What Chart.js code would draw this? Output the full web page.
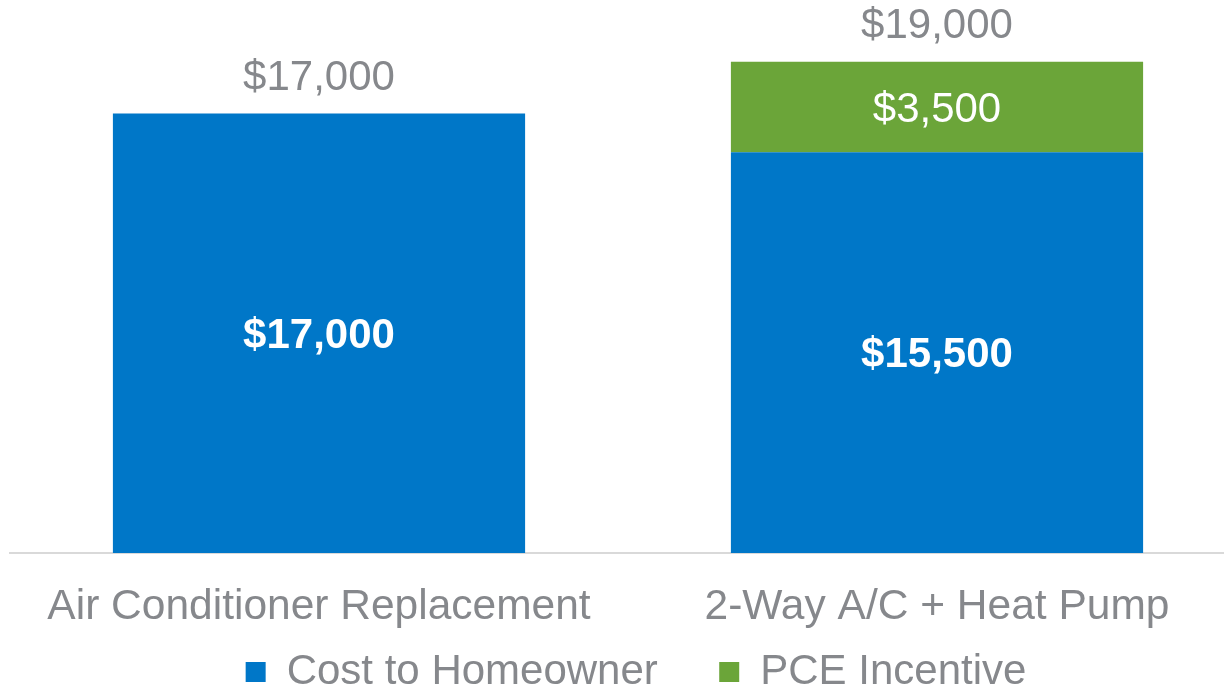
<!DOCTYPE html>
<html>
<head>
<meta charset="utf-8">
<script src="https://cdn.jsdelivr.net/npm/chart.js@4"></script>
<style>
  html, body { margin: 0; padding: 0; background: #fff; overflow: hidden; }
  #wrap { width: 1268px; height: 694px; }
</style>
</head>
<body>
<div id="wrap"><canvas id="chart" width="1268" height="694"></canvas></div>
<script>
  // chart data
  const categories = ["Air Conditioner Replacement", "2-Way A/C + Heat Pump"];
  const costToHomeowner = [17000, 15500];
  const pceIncentive = [null, 3500];
  const seriesNames = ["Cost to Homeowner", "PCE Incentive"];

  const BLUE = "#0077C8";
  const GREEN = "#6BA539";
  const GREY = "#86888C";
  const FONT = '"Liberation Sans", Arial, sans-serif';

  const money = (n) => "$" + Number(n).toLocaleString("en-US");

  // labels inside the segments and totals above each stack
  const valueLabels = {
    id: "valueLabels",
    afterDatasetsDraw(chart) {
      const ctx = chart.ctx;
      ctx.save();
      ctx.textAlign = "center";
      ctx.textBaseline = "middle";
      const tops = [];
      chart.data.datasets.forEach((ds, i) => {
        const meta = chart.getDatasetMeta(i);
        meta.data.forEach((bar, j) => {
          const v = ds.data[j];
          if (!v) return;
          ctx.font = (i === 0 ? "bold " : "") + "42px " + FONT;
          ctx.fillStyle = "#fff";
          ctx.fillText(money(v), bar.x, (bar.y + bar.base) / 2 + 3);
          if (tops[j] === undefined || bar.y < tops[j].y) tops[j] = { x: bar.x, y: bar.y };
        });
      });
      ctx.font = "42px " + FONT;
      ctx.fillStyle = GREY;
      tops.forEach((t, j) => {
        const total = chart.data.datasets.reduce((s, ds) => s + (ds.data[j] || 0), 0);
        ctx.fillText(money(total), t.x, t.y - 35);
      });
      ctx.restore();
    }
  };

  // keep the legend band short so the plot reaches down like the original,
  // and nudge it a bit right
  const legendTweak = {
    id: "legendTweak",
    beforeInit(chart) {
      const legend = chart.legend;
      const fit = legend.fit;
      legend.fit = function () {
        fit.call(this);
        this.height = 61;
      };
      const draw = legend.draw;
      legend.draw = function () {
        this.ctx.save();
        this.ctx.translate(8, 0);
        draw.call(this);
        this.ctx.restore();
      };
    }
  };

  new Chart(document.getElementById("chart"), {
    type: "bar",
    data: {
      labels: categories,
      datasets: [
        { label: seriesNames[0], data: costToHomeowner, backgroundColor: BLUE },
        { label: seriesNames[1], data: pceIncentive, backgroundColor: GREEN }
      ]
    },
    options: {
      responsive: false,
      animation: false,
      layout: { padding: { left: 10, right: 22, top: 36, bottom: 0 } },
      datasets: { bar: { categoryPercentage: 1, barPercentage: 0.667 } },
      plugins: {
        legend: {
          position: "bottom",
          labels: {
            color: GREY,
            font: { family: FONT, size: 42 },
            boxWidth: 20,
            boxHeight: 20,
            padding: 18,
            // a little extra room after the first entry, like the original spacing
            generateLabels(chart) {
              const items = Chart.defaults.plugins.legend.labels.generateLabels(chart);
              items[0].text += "   \u2009";
              return items;
            }
          }
        },
        tooltip: { enabled: false }
      },
      scales: {
        x: {
          stacked: true,
          grid: { display: false },
          border: { display: true, color: "#D9D9D9", width: 2 },
          ticks: { color: GREY, font: { family: FONT, size: 42.5 }, padding: 21, maxRotation: 0 },
          afterFit(axis) { axis.height = 80; }
        },
        y: {
          stacked: true,
          display: false,
          min: 0,
          max: 20000
        }
      }
    },
    plugins: [valueLabels, legendTweak]
  });
</script>
</body>
</html>
